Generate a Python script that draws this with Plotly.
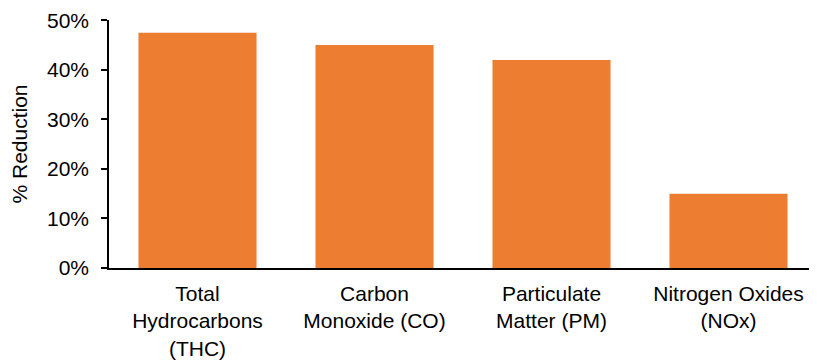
import plotly.graph_objects as go

categories = ["Total<br>Hydrocarbons<br>(THC)", "Carbon<br>Monoxide (CO)",
              "Particulate<br>Matter (PM)", "Nitrogen Oxides<br>(NOx)"]
reduction = [0.475, 0.45, 0.42, 0.15]
y_ticks = [0, 0.1, 0.2, 0.3, 0.4, 0.5]

FONT = "Liberation Sans, Arial, sans-serif"
FS = 21

fig = go.Figure(go.Bar(
    x=categories, y=reduction,
    marker=dict(color="#ED7D31", line=dict(width=0)),
))

# page body has an 8px default margin, so the figure is sized to fit the window
fig.update_layout(
    width=809, height=353,
    margin=dict(l=101, r=0, t=12, b=93),
    plot_bgcolor="white", paper_bgcolor="white",
    bargap=0.333,
    showlegend=False,
    font=dict(family=FONT, size=FS, color="#000000"),
)
fig.update_xaxes(
    showline=True, linecolor="black", linewidth=1.5,
    ticks="", showgrid=False, tickfont=dict(size=FS),
    automargin=False, ticklabelstandoff=6,
)
fig.update_yaxes(
    range=[0, 0.5005], tickvals=y_ticks, tickformat=".0%",
    showline=True, linecolor="black", linewidth=1.5,
    ticks="outside", ticklen=6, tickwidth=1.5, tickcolor="black",
    showgrid=False, zeroline=False, automargin=False,
    ticklabelstandoff=8,
    title=dict(text="% Reduction", font=dict(size=FS), standoff=14),
    tickfont=dict(size=FS),
)

fig.write_html("out.html")
